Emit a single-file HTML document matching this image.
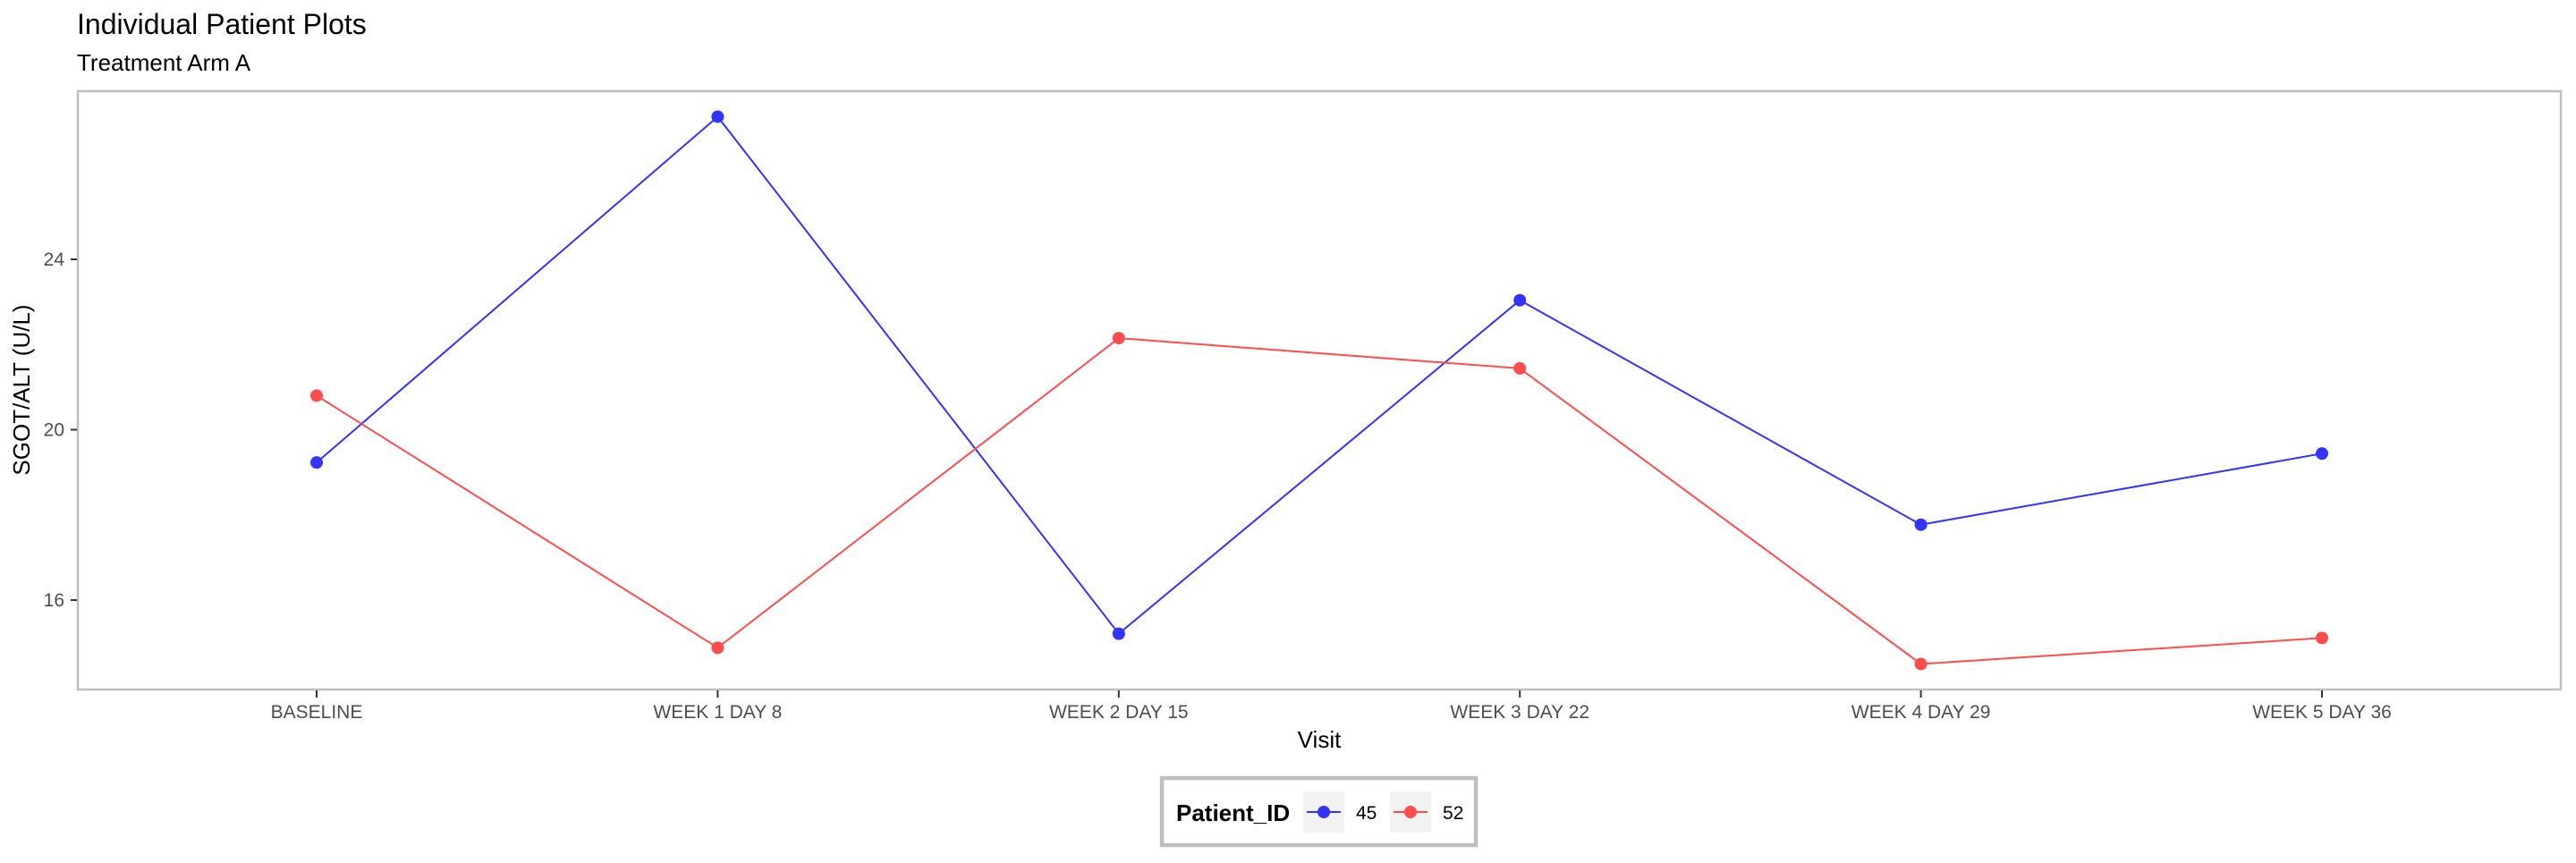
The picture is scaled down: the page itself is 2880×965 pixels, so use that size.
<!DOCTYPE html>
<html><head><meta charset="utf-8">
<style>
html,body{margin:0;padding:0;background:#fff;}
body{width:2880px;height:960px;overflow:hidden;font-family:"Liberation Sans",sans-serif;}
</style></head>
<body>
<svg id="chart" width="2880" height="960" xmlns="http://www.w3.org/2000/svg" font-family="Liberation Sans, sans-serif">
  <text x="86" y="38" font-size="32" fill="#000">Individual Patient Plots</text>
  <text x="86" y="79" font-size="26" fill="#000">Treatment Arm A</text>
  <rect x="87" y="102" width="2776" height="669" fill="#fff" stroke="#bebebe" stroke-width="2.5"/>
  <g id="yaxis"></g>
  <g id="xaxis"></g>
  <g id="series"></g>
  <text x="1475" y="836" font-size="26" text-anchor="middle" fill="#000">Visit</text>
  <text transform="translate(33,436) rotate(-90)" font-size="26" text-anchor="middle" fill="#000">SGOT/ALT (U/L)</text>
  <g>
    <rect x="1299" y="870" width="351" height="75" fill="#fff" stroke="#bebebe" stroke-width="4.5"/>
    <text x="1315" y="918" font-size="26" font-weight="bold" fill="#000">Patient_ID</text>
    <g>
      <rect x="1457" y="885" width="46" height="46" fill="#f2f2f2"/>
      <line x1="1461" y1="908" x2="1499" y2="908" stroke="#3333ff" stroke-width="2"/>
      <circle cx="1480" cy="908" r="7" fill="#3333ff"/>
      <text x="1516" y="916" font-size="21" fill="#000">45</text>
    </g>
    <g>
      <rect x="1554" y="885" width="46" height="46" fill="#f2f2f2"/>
      <line x1="1558" y1="908" x2="1596" y2="908" stroke="#ff4d4d" stroke-width="2"/>
      <circle cx="1577" cy="908" r="7" fill="#ff4d4d"/>
      <text x="1613" y="916" font-size="21" fill="#000">52</text>
    </g>
  </g>
</svg>
<script>
const categories = ["BASELINE","WEEK 1 DAY 8","WEEK 2 DAY 15","WEEK 3 DAY 22","WEEK 4 DAY 29","WEEK 5 DAY 36"];
const patientIds = ["45","52"];
const seriesColors = ["#3333ff","#ff4d4d"];
const values45 = [19.23, 27.35, 15.21, 23.04, 17.77, 19.44];
const values52 = [20.80, 14.88, 22.15, 21.44, 14.50, 15.11];
const yTicks = [16, 20, 24];

const NS = "http://www.w3.org/2000/svg";
function xScale(i){ return 354 + i * (2596 - 354) / (categories.length - 1); }
function yScale(v){ return 290 + (24 - v) * (671 - 290) / 8; }
function mk(tag, attrs, parent){
  const e = document.createElementNS(NS, tag);
  for (const k in attrs) e.setAttribute(k, attrs[k]);
  parent.appendChild(e); return e;
}
const yg = document.getElementById('yaxis');
yTicks.forEach(t => {
  const y = yScale(t);
  const tk = mk('line', {x1: 79, x2: 86, y1: y, y2: y, stroke: '#333', 'stroke-width': 2}, yg);
  
  
  const lb = mk('text', {x: 72, y: y + 7, 'font-size': 21, 'text-anchor': 'end', fill: '#4d4d4d'}, yg);
  lb.textContent = t;
  
  
});
const xg = document.getElementById('xaxis');
categories.forEach((c, i) => {
  const x = xScale(i);
  const tk = mk('line', {x1: x, x2: x, y1: 772, y2: 780, stroke: '#333', 'stroke-width': 2}, xg);
  
  
  const lb = mk('text', {x: x, y: 803, 'font-size': 21, 'text-anchor': 'middle', fill: '#4d4d4d'}, xg);
  lb.textContent = c;
  
  
});
const sg = document.getElementById('series');
[values45, values52].forEach((vals, s) => {
  const pts = vals.map((v, i) => xScale(i) + ',' + yScale(v)).join(' ');
  const pl = mk('polyline', {points: pts, fill: 'none', stroke: seriesColors[s], 'stroke-width': 2}, sg);
  
  
  vals.forEach((v, i) => {
    const c = mk('circle', {cx: xScale(i), cy: yScale(v), r: 7, fill: seriesColors[s]}, sg);
    
    
  });
});
</script>
</body></html>
